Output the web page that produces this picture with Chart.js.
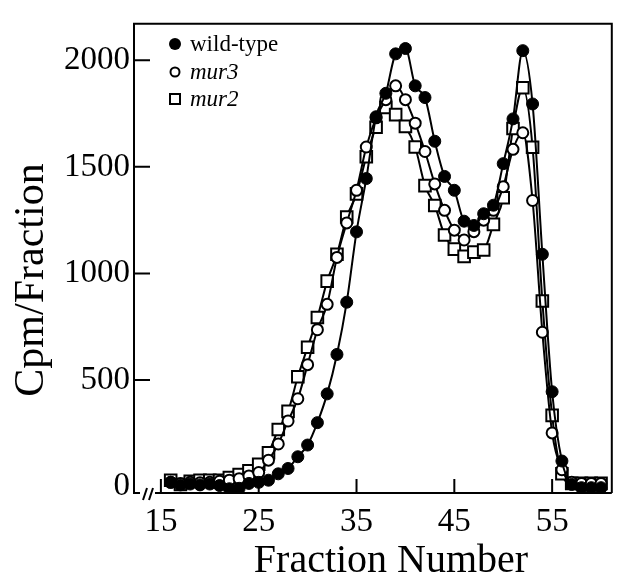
<!DOCTYPE html>
<html><head><meta charset="utf-8">
<script src="https://cdn.jsdelivr.net/npm/chart.js@4.4.1/dist/chart.umd.min.js"></script>
<style>html,body{margin:0;padding:0;background:#fff;}#wrap{width:622px;height:578px;}</style>
</head><body><div id="wrap"><canvas id="c" width="622" height="578"></canvas></div>
<script>
const fractions = [16,17,18,19,20,21,22,23,24,25,26,27,28,29,30,31,32,33,34,35,36,37,38,39,40,41,42,43,44,45,46,47,48,49,50,51,52,53,54,55,56,57,58,59,60];
const wildType = [20,8,12,8,12,5,-10,-8,15,20,30,60,85,140,195,300,435,620,865,1195,1445,1735,1845,2030,2055,1880,1825,1620,1455,1390,1245,1225,1280,1320,1515,1725,2045,1795,1090,445,120,10,-5,-5,-5];
const mur3 = [20,15,20,18,20,25,30,37,50,66,124,200,308,412,572,736,855,1075,1237,1390,1593,1730,1815,1880,1815,1705,1572,1420,1296,1203,1157,1196,1250,1296,1407,1582,1660,1342,724,252,79,20,15,15,15];
const mur2 = [30,10,25,30,30,30,43,56,74,105,159,268,353,515,654,793,964,1090,1265,1373,1547,1686,1779,1745,1690,1593,1412,1319,1180,1114,1080,1100,1110,1230,1355,1680,1871,1592,871,334,60,15,15,15,15];
const xTickValues = [15,25,35,45,55];
const yTickValues = [0,500,1000,1500,2000];
const seriesLabels = ['wild-type','mur3','mur2'];
const xTitle = 'Fraction Number';
const yTitle = 'Cpm/Fraction';

const SERIF = '"Liberation Serif", "Times New Roman", serif';

function pts(vals){ return fractions.map((f,i)=>({x:f,y:vals[i]})); }

const framePlugin = {
  id:'frame',
  beforeDatasetsDraw(chart){
    const {ctx, chartArea:a, scales} = chart;
    ctx.save();
    ctx.strokeStyle='#000'; ctx.lineWidth=2; ctx.lineCap='butt';
    ctx.beginPath();
    ctx.moveTo(a.left, a.bottom); ctx.lineTo(a.left, a.top); ctx.lineTo(a.right, a.top); ctx.lineTo(a.right, a.bottom);
    ctx.moveTo(a.right, a.bottom); ctx.lineTo(a.left+21, a.bottom);
    ctx.moveTo(a.left+6, a.bottom); ctx.lineTo(a.left-1, a.bottom);
    ctx.stroke();
    ctx.beginPath();
    ctx.moveTo(a.left+9, a.bottom+7); ctx.lineTo(a.left+13, a.bottom-5);
    ctx.moveTo(a.left+15, a.bottom+7); ctx.lineTo(a.left+19, a.bottom-5);
    ctx.stroke();
    ctx.beginPath();
    xTickValues.forEach(v=>{const px=scales.x.getPixelForValue(v); ctx.moveTo(px,a.bottom); ctx.lineTo(px,a.bottom-14);});
    yTickValues.filter(v=>v>0).forEach(v=>{const py=scales.y.getPixelForValue(v); ctx.moveTo(a.left,py); ctx.lineTo(a.left+16,py);});
    ctx.stroke();
    ctx.restore();
  },
  afterDraw(chart){
    const {ctx, chartArea:a} = chart;
    ctx.save();
    ctx.fillStyle='#000';
    ctx.font = '40px '+SERIF;
    ctx.textAlign='center'; ctx.textBaseline='alphabetic';
    ctx.fillText(xTitle, 391, 572);
    ctx.save();
    ctx.translate(43, 280);
    ctx.rotate(-Math.PI/2);
    ctx.font = '42px '+SERIF;
    ctx.fillText(yTitle, 0, 0);
    ctx.restore();
    const ys=[44,72,99];
    const mx=175, tx=190;
    ctx.lineWidth=2; ctx.strokeStyle='#000';
    ctx.beginPath(); ctx.arc(mx, ys[0], 6, 0, Math.PI*2); ctx.fill();
    ctx.beginPath(); ctx.arc(mx, ys[1], 4.5, 0, Math.PI*2); ctx.fillStyle='#fff'; ctx.fill(); ctx.stroke();
    ctx.fillStyle='#fff'; ctx.fillRect(mx-5, ys[2]-5, 10, 10); ctx.strokeRect(mx-5, ys[2]-5, 10, 10);
    ctx.fillStyle='#000';
    ctx.textAlign='left'; ctx.textBaseline='middle';
    seriesLabels.forEach((lab,i)=>{
      ctx.font = (i===0? '' : 'italic ') + '23px '+SERIF;
      ctx.fillText(lab, tx, ys[i]+1);
    });
    ctx.restore();
  }
};

new Chart(document.getElementById('c'), {
  type:'line',
  data:{ datasets:[
    {label:seriesLabels[0], data:pts(wildType), borderColor:'#000', borderWidth:2, pointStyle:'circle', pointRadius:6, pointBackgroundColor:'#000', pointBorderColor:'#000', pointBorderWidth:1, cubicInterpolationMode:'monotone', fill:false},
    {label:seriesLabels[1], data:pts(mur3), borderColor:'#000', borderWidth:2, pointStyle:'circle', pointRadius:5.5, pointBackgroundColor:'#fff', pointBorderColor:'#000', pointBorderWidth:2, cubicInterpolationMode:'monotone', fill:false},
    {label:seriesLabels[2], data:pts(mur2), borderColor:'#000', borderWidth:2, pointStyle:'rect', pointRadius:8.2, pointBackgroundColor:'#fff', pointBorderColor:'#000', pointBorderWidth:2, cubicInterpolationMode:'monotone', fill:false}
  ]},
  options:{
    responsive:false, animation:false, devicePixelRatio:1,
    layout:{padding:{top:16,right:3,left:0,bottom:0}},
    plugins:{legend:{display:false}, tooltip:{enabled:false}},
    scales:{
      x:{type:'linear', min:12.25, max:61.1,
        afterBuildTicks(s){ s.ticks = xTickValues.map(v=>({value:v})); },
        afterFit(s){ s.height = 85; },
        grid:{display:false, drawTicks:false}, border:{display:false},
        ticks:{color:'#000', font:{family:SERIF, size:33}, padding:10, maxRotation:0, autoSkip:false, callback:v=>String(v)}
      },
      y:{type:'linear', min:-30, max:2171,
        afterBuildTicks(s){ s.ticks = yTickValues.map(v=>({value:v})); },
        afterFit(s){ s.width = 134; },
        grid:{display:false, drawTicks:false}, border:{display:false},
        ticks:{color:'#000', font:{family:SERIF, size:33}, padding:4, autoSkip:false, callback:v=>String(v)}
      }
    }
  },
  plugins:[framePlugin]
});
</script></body></html>
